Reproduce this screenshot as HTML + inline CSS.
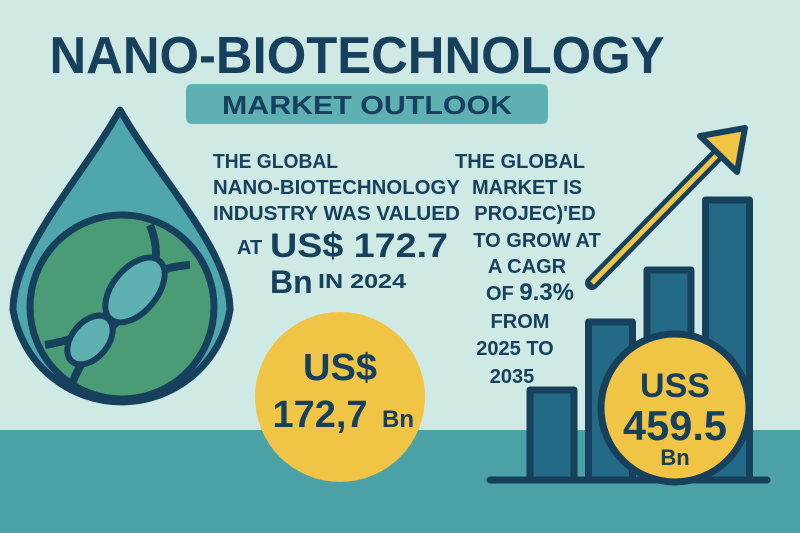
<!DOCTYPE html>
<html><head><meta charset="utf-8"><style>
body{margin:0;width:800px;height:533px;overflow:hidden;background:#cfe9e5;font-family:"Liberation Sans",sans-serif}
svg{display:block}
text{font-family:"Liberation Sans",sans-serif;font-weight:bold;fill:#17405c}
</style></head><body>
<svg width="800" height="533" viewBox="0 0 800 533">
<rect x="0" y="0" width="800" height="533" fill="#cfe9e5"/>
<rect x="0" y="430" width="800" height="103" fill="#4aa2a6"/>
<text x="357" y="73" font-size="52" text-anchor="middle" textLength="615" lengthAdjust="spacingAndGlyphs">NANO-BIOTECHNOLOGY</text>
<rect x="186" y="84" width="362" height="40" rx="6" fill="#5fb0b3"/>
<text x="367" y="114" font-size="26" text-anchor="middle" textLength="290" lengthAdjust="spacingAndGlyphs">MARKET OUTLOOK</text>

<g>
<path d="M120 110 C160 180 230 250 230 310 A110 110 0 0 1 13 310 C13 250 80 180 120 110 Z" fill="#4fa6ad" stroke="#17405c" stroke-width="7" stroke-linejoin="round"/>
<circle cx="122" cy="307" r="92" fill="#4a9c76" stroke="#17405c" stroke-width="7"/>
<path d="M150 225 C180 300 90 320 70 390 M190 265 C110 270 140 330 45 345" fill="none" stroke="#17405c" stroke-width="8"/>
<ellipse cx="135" cy="290" rx="22" ry="38" transform="rotate(40 135 290)" fill="#5fb0b3" stroke="#17405c" stroke-width="6"/>
<ellipse cx="90" cy="340" rx="18" ry="28" transform="rotate(40 90 340)" fill="#5fb0b3" stroke="#17405c" stroke-width="6"/>
</g>

<g font-size="20">
<text x="213" y="168" textLength="125" lengthAdjust="spacingAndGlyphs">THE GLOBAL</text>
<text x="213" y="194" textLength="247" lengthAdjust="spacingAndGlyphs">NANO-BIOTECHNOLOGY</text>
<text x="213" y="220" textLength="247" lengthAdjust="spacingAndGlyphs">INDUSTRY WAS VALUED</text>
<text x="237" y="254">AT</text>
<text x="270" y="257" font-size="34" textLength="178" lengthAdjust="spacingAndGlyphs">US$ 172.7</text>
<text x="270" y="293" font-size="32">Bn</text>
<text x="318" y="288" textLength="88" lengthAdjust="spacingAndGlyphs">IN 2024</text>
</g>

<g>
<circle cx="340" cy="397" r="85" fill="#f0c444"/>
<text x="340" y="380" font-size="38" text-anchor="middle">US$</text>
<text x="320" y="427" font-size="38" text-anchor="middle">172,7</text>
<text x="398" y="427" font-size="24" text-anchor="middle">Bn</text>
</g>

<g font-size="20" text-anchor="middle">
<text x="520" y="168">THE GLOBAL</text>
<text x="527" y="194">MARKET IS</text>
<text x="535" y="220">PROJEC)'ED</text>
<text x="537" y="247">TO GROW AT</text>
<text x="527" y="273">A CAGR</text>
<text x="530" y="300">OF <tspan font-size="24">9.3%</tspan></text>
<text x="520" y="328">FROM</text>
<text x="515" y="355">2025 TO</text>
<text x="512" y="383">2035</text>
</g>

<g id="chart"></g>

<g>
<line x1="592" y1="283" x2="730" y2="142" stroke="#17405c" stroke-width="14" stroke-linecap="round"/>
<line x1="592" y1="283" x2="730" y2="142" stroke="#f0c444" stroke-width="5"/>
<path d="M745 128 L700 136 L737 172 Z" fill="#f0c444" stroke="#17405c" stroke-width="6" stroke-linejoin="round"/>
</g>

<g>
<circle cx="675" cy="408" r="74" fill="#f0c444" stroke="#17405c" stroke-width="7"/>
<text x="675" y="397" font-size="34" text-anchor="middle">USS</text>
<text x="675" y="440" font-size="42" text-anchor="middle" textLength="104" lengthAdjust="spacingAndGlyphs">459.5</text>
<text x="675" y="465" font-size="22" text-anchor="middle">Bn</text>
</g>
</svg>
<script>
const categories=["2025","2028","2031","2035"];
const barValues=[90,158,210,280];
const NS="http://www.w3.org/2000/svg";
const g=document.getElementById("chart");
const baseY=480,scaleY=v=>baseY-v,xPos=i=>530+i*58.5,barW=44;
categories.forEach((c,i)=>{
  const r=document.createElementNS(NS,"rect");
  r.setAttribute("x",xPos(i));r.setAttribute("y",scaleY(barValues[i]));
  r.setAttribute("width",barW);r.setAttribute("height",baseY-scaleY(barValues[i]));
  r.setAttribute("fill","#236a86");r.setAttribute("stroke","#17405c");r.setAttribute("stroke-width","7");
  r.setAttribute("stroke-linejoin","round");
  
  
  g.appendChild(r);
});
const l=document.createElementNS(NS,"line");
l.setAttribute("x1",490);l.setAttribute("x2",767);l.setAttribute("y1",baseY);l.setAttribute("y2",baseY);
l.setAttribute("stroke","#17405c");l.setAttribute("stroke-width","7");l.setAttribute("stroke-linecap","round");


g.appendChild(l);
</script>
</body></html>
